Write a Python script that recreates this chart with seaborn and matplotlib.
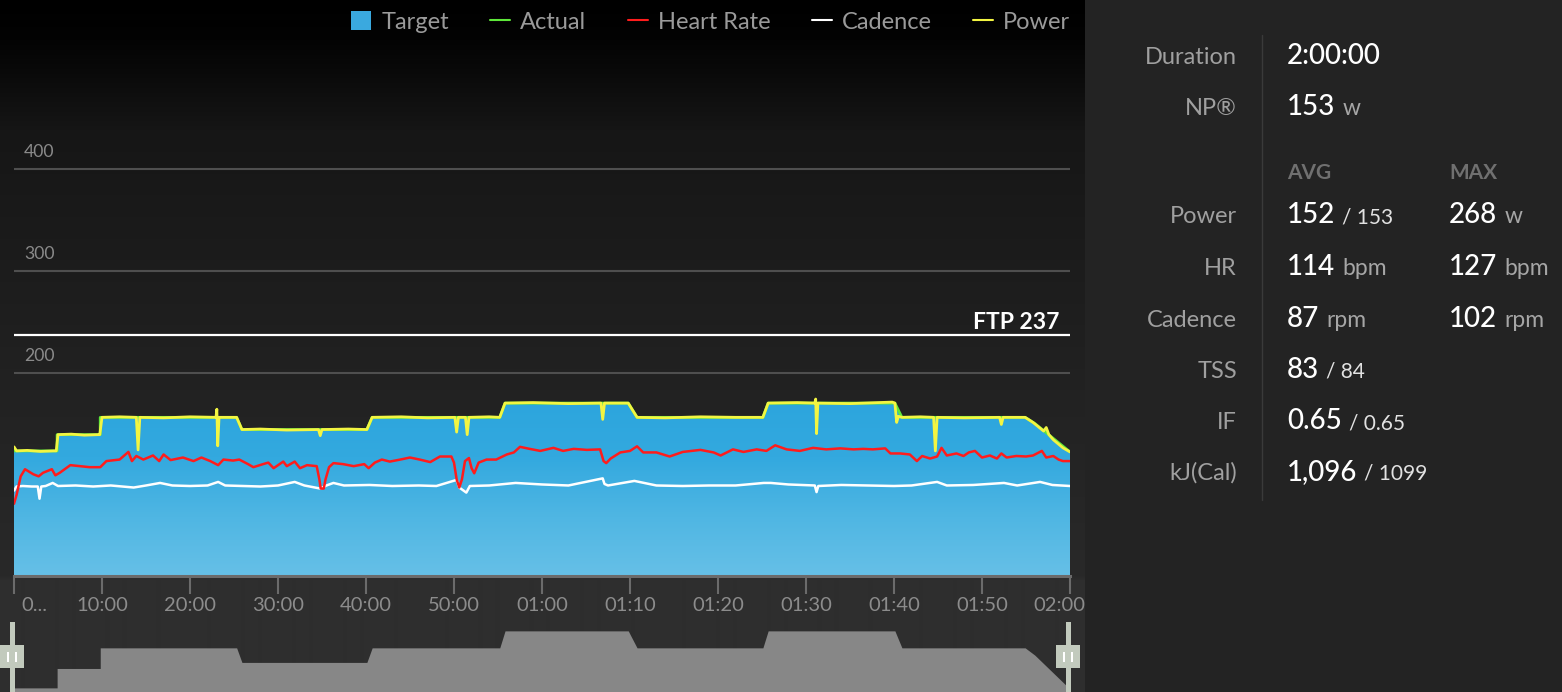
import numpy as np
import matplotlib
matplotlib.use("Agg")
import matplotlib.pyplot as plt
import seaborn as sns
from matplotlib.colors import LinearSegmentedColormap
from matplotlib.lines import Line2D
from matplotlib.patches import Patch, Rectangle
from matplotlib.transforms import ScaledTranslation

sns.set_theme(style="dark")
plt.rcParams['font.family'] = ['Lato', 'DejaVu Sans']

# ---------------- data (minutes, watts / bpm / rpm) ----------------
target_t = [0, 4.9, 4.9, 9.8, 9.8, 25.3, 25.9, 40.1, 40.7, 55.2,
            55.8, 69.8, 70.8, 85.1, 85.7, 100.1, 100.9, 114.9, 116.0, 120.0]
target_w = [123, 123, 139, 139, 156, 156, 144, 144, 156, 156,
            170, 170, 156, 156, 170, 170, 156, 156, 150, 122]

power_t = [0, 0.3, 1.5, 3.0, 4.5, 4.8, 5.0, 6.5, 8.0, 9.6,
           9.75, 10.0, 12.0, 13.9, 14.1, 14.3, 17.0, 20.0, 22.95, 23.05,
           23.15, 23.3, 25.3, 25.9, 28.0, 31.0, 34.6, 34.8, 35.0, 38.0,
           40.1, 40.7, 44.0, 47.0, 50.1, 50.3, 50.5, 51.3, 51.5, 51.7,
           54.0, 55.2, 55.8, 59.0, 63.0, 66.7, 66.9, 67.1, 69.8, 70.8,
           74.0, 78.0, 82.0, 85.1, 85.7, 89.0, 91.0, 91.1, 91.2, 91.35,
           95.0, 99.8, 100.1, 100.3, 100.5, 100.9, 103.0, 104.5, 104.7, 104.9,
           108.0, 112.0, 112.2, 112.4, 114.9, 115.8, 117.0, 117.3, 117.6, 118.1,
           119.2, 120.0]
power_w = [127, 123, 123.5, 122.5, 123, 123, 139, 139.5, 138.5, 139,
           139, 156, 156.5, 156, 124, 156, 155.5, 156.5, 156, 164,
           128, 156, 156, 144, 144.5, 143.5, 144, 138, 144, 144.5,
           144, 156, 156.5, 155.5, 156, 141.5, 156, 156, 139, 156,
           156.5, 156, 170, 170.5, 169.5, 170, 154, 170, 170, 156,
           155.5, 156.5, 156, 156, 170, 170.5, 170, 174, 140, 170,
           169.5, 171, 170, 151, 157, 156, 156.5, 156, 123, 156,
           155.5, 156, 149, 156, 156, 151, 142.5, 146, 139, 134,
           126, 122]

hr_t = [0, 0.3, 0.76, 1.25, 2.2, 2.8, 3.3, 4.3, 4.7, 5.2,
        6.4, 7.5, 8.6, 9.8, 10.5, 12.0, 13.0, 13.4, 13.9, 14.7,
        15.8, 16.5, 17.0, 17.8, 19.2, 20.4, 21.3, 22.3, 23.2, 23.8,
        24.9, 25.6, 26.6, 27.2, 28.3, 28.9, 29.5, 30.6, 31.0, 31.9,
        32.5, 33.3, 34.4, 34.7, 34.85, 35.2, 35.4, 35.8, 36.3, 37.4,
        38.6, 39.8, 40.3, 41.0, 41.8, 42.7, 43.9, 45.0, 46.1, 47.3,
        48.4, 49.7, 50.0, 50.3, 50.6, 50.9, 51.25, 51.7, 52.0, 52.3,
        52.8, 53.7, 54.8, 56.0, 56.8, 57.5, 58.6, 59.8, 61.3, 62.4,
        63.6, 65.1, 66.6, 67.0, 67.3, 67.8, 68.9, 70.0, 70.8, 71.5,
        73.0, 74.5, 76.0, 78.0, 79.5, 80.3, 81.7, 82.9, 84.4, 85.5,
        86.5, 87.8, 89.3, 90.8, 92.3, 93.9, 95.4, 96.5, 97.6, 99.0,
        99.6, 100.7, 101.8, 102.6, 103.2, 104.1, 104.9, 105.4, 106.0, 107.1,
        107.9, 108.5, 109.2, 110.0, 110.9, 111.7, 112.2, 112.8, 113.9, 115.0,
        115.8, 116.8, 117.3, 118.1, 118.7, 119.2, 120.0]
hr_v = [71, 80, 98, 105, 100, 98, 101.5, 105, 99, 101.5,
        109, 108, 107, 107, 113, 114.5, 122, 113, 118, 114.5,
        118.5, 113, 119.5, 114, 116.5, 113, 116.5, 113, 109, 114.5,
        113.5, 114.5, 110, 107, 110, 111.5, 106, 112.5, 108, 112.5,
        106, 109, 108, 95, 86, 86, 95, 107, 111, 110,
        108, 110, 106, 111.5, 114.5, 112.5, 114.5, 116.5, 114.5, 112,
        117.5, 117.5, 111.5, 95, 87, 95, 113, 116, 106, 101,
        111.5, 114.5, 114.5, 119.5, 121.5, 127, 125, 123, 126, 123,
        125, 124, 124.5, 113, 111, 115.5, 121.5, 123, 127.5, 121.5,
        121.5, 117.5, 122, 124, 121.5, 118.5, 124.5, 122, 124.5, 123,
        128.5, 124.5, 123, 126, 124.5, 125.5, 124.5, 125, 124.5, 125.5,
        120.5, 120.5, 119.5, 113, 118, 115.5, 117.5, 126, 118.5, 120.5,
        118, 121.5, 123, 116.5, 118.5, 115.5, 120.5, 116.5, 118, 117.5,
        118.5, 123, 116.5, 118, 114.5, 113, 113]

cad_t = [0, 0.3, 1.0, 2.0, 2.7, 2.9, 3.1, 3.6, 4.4, 5.0,
         7.0, 9.0, 11.0, 13.6, 15.0, 16.6, 18.0, 20.0, 22.0, 23.2,
         24.0, 26.0, 28.0, 30.0, 31.9, 33.0, 34.8, 35.5, 36.3, 37.5,
         40.4, 43.0, 46.0, 48.0, 50.3, 50.6, 51.4, 51.8, 54.0, 57.0,
         60.0, 63.0, 66.9, 67.1, 67.5, 70.5, 73.0, 76.0, 79.0, 82.0,
         85.2, 86.0, 88.0, 91.0, 91.2, 91.4, 94.0, 97.0, 100.0, 102.0,
         104.9, 106.0, 109.0, 112.5, 114.0, 116.6, 118.0, 120.0]
cad_v = [84, 88, 88.5, 88, 88, 76, 88, 88.5, 91.5, 88.5,
         89, 88, 89, 87, 89, 91.5, 89, 88.5, 89, 92.5,
         89, 88.5, 88, 89, 92.5, 89, 86, 89, 91.5, 89,
         89.5, 88.5, 89, 88.5, 94.5, 87, 82, 88.5, 89, 91.5,
         90, 89, 96, 90.5, 89, 93.5, 89, 88.5, 89, 89,
         91.5, 91.5, 90, 89, 82.5, 88.5, 89.5, 89, 88.5, 89,
         92.5, 89, 89.5, 91.5, 89, 92.5, 89.5, 88.5]

ftp = 237
ytick_vals = [200, 300, 400]
xtick_min = [0, 10, 20, 30, 40, 50, 60, 70, 80, 90, 100, 110, 120]
xtick_lab = ["0...", "10:00", "20:00", "30:00", "40:00", "50:00", "01:00",
             "01:10", "01:20", "01:30", "01:40", "01:50", "02:00"]

legend_names = ["Target", "Actual", "Heart Rate", "Cadence", "Power"]

stat_labels = ["Duration", "NP®", "Power", "HR", "Cadence", "TSS", "IF", "kJ(Cal)"]
avg_main = ["2:00:00", "153", "152", "114", "87", "83", "0.65", "1,096"]
avg_tail = ["", "w", "/ 153", "bpm", "rpm", "/ 84", "/ 0.65", "/ 1099"]
max_main = ["", "", "268", "127", "102", "", "", ""]
max_tail = ["", "", "w", "bpm", "rpm", "", "", ""]

# ---------------- colours ----------------
C_ACT = "#5ee83a"
C_HR = "#ff1c1c"
C_CAD = "#ffffff"
C_PWR = "#f3f542"

# ---------------- figure / layout (pixel based) ----------------
W, H = 1562, 692
fig = plt.figure(figsize=(W / 100, H / 100), dpi=100)
fig.patch.set_facecolor("#232323")

def fx(px):
    return px / W

def fy(py):
    return 1 - py / H

# left panel background: black at top fading to dark grey
bg = fig.add_axes([0, 0, fx(1085), 1])
bg.axis("off")
rows = np.arange(H)
g = np.interp(rows, [0, 40, 130, 390, 576, 580, 692],
              [0x00, 0x03, 0x16, 0x22, 0x29, 0x2e, 0x2e]) / 255
bg.imshow(np.repeat(g[:, None], 3, axis=1)[:, None, :], aspect="auto",
          extent=[0, 1, 0, 1], interpolation="bilinear")

# main chart: 0 W at y=576 px, 1.017 px per unit
ax = fig.add_axes([fx(14), fy(576), fx(1056), 576 / H])
ax.patch.set_alpha(0)

poly = ax.fill_between(target_t, target_w, 0, facecolor="none", edgecolor="none")
blue = LinearSegmentedColormap.from_list("tgt", ["#66c0e7", "#4fb6e3", "#33a9df", "#2ca5dd"])
grad = np.linspace(0, 1, 256)[:, None]
im = ax.imshow(grad, cmap=blue, extent=[0, 120, 0, 175], origin="lower",
               aspect="auto", zorder=1)
im.set_clip_path(poly.get_paths()[0], transform=ax.transData)

ax.axhline(ftp, color="white", lw=1.6, zorder=2)
ax.annotate(f"FTP {ftp}", xy=(1, ftp), xycoords=("axes fraction", "data"),
            xytext=(-11, 6), textcoords="offset pixels", ha="right", va="baseline",
            color="white", fontsize=16.5, fontweight="bold")

sns.lineplot(x=target_t, y=target_w, ax=ax, color=C_ACT, lw=2, estimator=None,
             sort=False, legend=False, zorder=3)
sns.lineplot(x=cad_t, y=cad_v, ax=ax, color=C_CAD, lw=1.8, estimator=None,
             sort=False, legend=False, zorder=4)
sns.lineplot(x=hr_t, y=hr_v, ax=ax, color=C_HR, lw=1.8, estimator=None,
             sort=False, legend=False, zorder=5)
sns.lineplot(x=power_t, y=power_w, ax=ax, color=C_PWR, lw=2, estimator=None,
             sort=False, legend=False, zorder=6)

ax.set_xlim(0, 120)
ax.set_ylim(0, 576 / 1.017)
ax.set_xlabel("")
ax.set_ylabel("")

ax.set_yticks(ytick_vals)
ax.tick_params(axis="y", length=0, labelleft=False)
ax.grid(axis="y", color="#4f4f4f", lw=1.5)
ax.grid(axis="x", visible=False)
for v in ytick_vals:
    ax.annotate(str(v), xy=(0, v), xycoords=("axes fraction", "data"),
                xytext=(10, 17), textcoords="offset pixels", ha="left", va="center",
                color="#8a8a8a", fontsize=12.7)

ax.set_xticks(xtick_min)
ax.set_xticklabels(xtick_lab)
ax.tick_params(axis="x", bottom=True, length=13, width=1.5, color="#6b6b6b",
               labelcolor="#8c8c8c", labelsize=14.5, pad=2)
xl = ax.get_xticklabels()
xl[0].set_transform(xl[0].get_transform() + ScaledTranslation(0.2, 0, fig.dpi_scale_trans))
xl[-1].set_transform(xl[-1].get_transform() + ScaledTranslation(-0.11, 0, fig.dpi_scale_trans))

for s in ["left", "right", "top"]:
    ax.spines[s].set_visible(False)
ax.spines["bottom"].set_color("#6b6b6b")
ax.spines["bottom"].set_linewidth(2.2)
ax.spines["bottom"].set_zorder(7)

# overview strip
ov = fig.add_axes([fx(14), 0, fx(1056), 82 / H])
ov.patch.set_alpha(0)
ov.fill_between(target_t, target_w, 0, color="#878787", lw=0)
ov.set_xlim(0, 120)
ov.set_ylim(119.6, 187.2)
ov.axis("off")

# legend
handles = [Patch(facecolor="#3aa9df", edgecolor="none"),
           Line2D([], [], color=C_ACT, lw=1.5),
           Line2D([], [], color=C_HR, lw=1.5),
           Line2D([], [], color=C_CAD, lw=1.5),
           Line2D([], [], color=C_PWR, lw=1.5)]
fig.legend(handles, legend_names, loc="center right", bbox_to_anchor=(fx(1070), fy(22)),
           ncol=5, frameon=False, fontsize=17, labelcolor="#9a9a9a",
           handlelength=0.85, handleheight=0.85, handletextpad=0.42,
           columnspacing=1.75, borderpad=0, borderaxespad=0)

# overlay in pixel coordinates for handles and stats panel
txt = fig.add_axes([0, 0, 1, 1])
txt.set_xlim(0, W)
txt.set_ylim(H, 0)
txt.axis("off")
txt.patch.set_alpha(0)

for cx in [12, 1068]:
    txt.add_patch(Rectangle((cx - 2.5, 622), 5, 70, facecolor="#c2cabd", edgecolor="none"))
    txt.add_patch(Rectangle((cx - 12, 645), 24, 23, facecolor="#c2cabd", edgecolor="none"))
    for dx in [-4, 4]:
        txt.add_patch(Rectangle((cx + dx - 1, 652), 2, 10, facecolor="white", edgecolor="none"))

txt.plot([1262, 1262], [35, 500], color="#3a3a3a", lw=1)

renderer = fig.canvas.get_renderer()
row_base = [64, 115, 223, 275, 327, 378, 429, 480]

def chain(x, y, main, tail):
    if not main:
        return
    t = txt.text(x, y, main, fontsize=20, color="white", fontweight="medium",
                 va="baseline", ha="left")
    if tail:
        x1 = t.get_window_extent(renderer).x1
        if tail.startswith("/"):
            txt.text(x1 + 7, y, tail, fontsize=15, color="#e2e2e2", va="baseline", ha="left")
        else:
            txt.text(x1 + 7, y, tail, fontsize=16.5, color="#a6a6a6", va="baseline", ha="left")

for i, lab in enumerate(stat_labels):
    y = row_base[i]
    txt.text(1237, y, lab, fontsize=17, color="#a0a0a0", va="baseline", ha="right")
    chain(1287, y, avg_main[i], avg_tail[i])
    chain(1449, y, max_main[i], max_tail[i])

txt.text(1287, 179, "AVG", fontsize=15, color="#707070", fontweight="bold", va="baseline")
txt.text(1449, 179, "MAX", fontsize=15, color="#707070", fontweight="bold", va="baseline")

fig.savefig("out.png", dpi=100, facecolor=fig.get_facecolor())
